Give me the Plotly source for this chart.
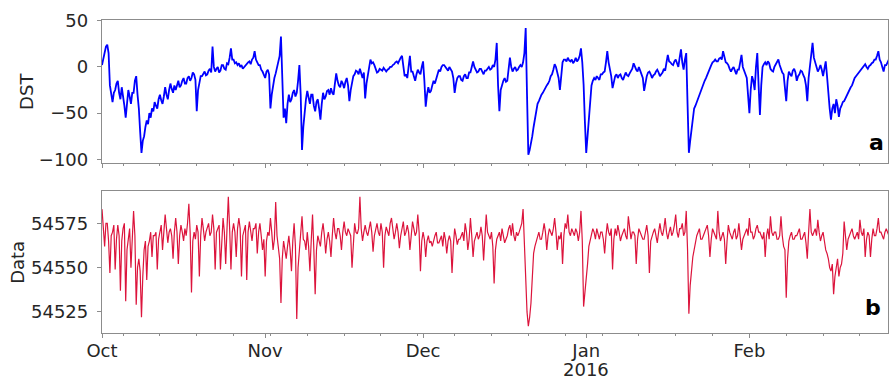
import pandas as pd
import plotly.graph_objects as go

# DST index, 6-hourly samples (4 per day), by month
dst_oct = [
    2, 10, 18, 22,  24, 15, -20, -30,  -38, -28, -25, -18,  -15, -28, -35, -22,  -30, -42, -55, -35,
    -25, -32, -40, -28,  -28, -15, -10, -30,  -45, -70, -93, -80,  -75, -65, -58, -62,  -50, -55, -45, -48,
    -38, -42, -45, -35,  -30, -36, -40, -32,  -22, -30, -35, -25,  -18, -24, -28, -20,  -25, -20, -15, -22,
    -20, -15, -12, -18,  -18, -12, -10, -15,  -12, -6, -8, -14,  -48, -25, -15, -10,  -10, -7, -5, -9,
    -8, -4, -2, -6,  22, 0, -5, -2,  0, -6, -4, 2,  2, -2, -3, 4,  3, 10, 20, 8,
    8, 4, 5, 2,  4, 0, 2, -2,  0, 2, 3, 5,  6, 3, 8, 10,  17, 8, 5, 2,
    2, -3, -5, -8,
]
dst_nov = [
    -12, -5, -3, -8,  -45, -30, -20, -12,  -7, 0, 5, 12,  33, -20, -55, -45,  -61, -40, -30, -38,
    -35, -28, -25, -32,  -28, -15, 2, -30,  -90, -65, -48, -35,  -26, -35, -40, -30,  -30, -42, -48, -38,
    -35, -45, -57, -40,  -28, -35, -32, -26,  -25, -30, -23, -28,  -30, -18, -7, -15,  -20, -22, -15, -18,
    -23, -16, -12, -20,  -37, -25, -15, -10,  -8, -4, -5, -8,  -2, -6, -12, -6,  -34, -18, -10, -2,
    8, 4, 5, 2,  -2, -6, -5, -2,  -3, -4, -1, -3,  -5, -3, -2, 0,  0, 2, 3, 5,
    6, 4, 8, 10,  12, 0, -10, -8,  -12, 0, 12, -5,  -5, -10, -15, -8,  -3, -6, -8, 0,
]
dst_dec = [
    6, -15, -43, -30,  -22, -28, -26, -20,  -15, -18, -12, -8,  -3, -5, 0, 2,  2, 0, -2, -4,
    0, -3, -5, -12,  -28, -18, -12, -10,  -10, -14, -15, -10,  -8, -12, -12, -6,  -6, 0, 6, 0,
    -3, -6, -5, -2,  -2, -5, -8, -4,  -4, -2, 0, -3,  -2, 2, 0, 8,  26, -20, -48, -25,
    -18, -15, -12, -16,  -15, -5, 10, 0,  -5, -2, 0, -4,  -3, 0, 2, 0,  5, 15, 42, -30,
    -95, -90, -84, -75,  -65, -55, -45, -40,  -37, -33, -30, -28,  -25, -22, -20, -18,  -15, -10, -8, -3,
    3, 0, -5, -12,  -25, -5, 5, 8,  8, 6, 10, 7,  6, 8, 4, 6,  10, 6, 8, 12,
    20, 5, -19, -60,
]
dst_jan = [
    -93, -75, -59, -35,  -20, -15, -12, -14,  -10, -12, -14, -8,  -8, -6, -5, 5,  17, 5, -3, -10,
    -23, -14, -10, -8,  -12, -9, -8, -12,  -14, -10, -6, -9,  -10, -7, -5, -2,  4, 0, -3, -5,
    0, -4, -8, -12,  -26, -15, -10, -6,  -5, -8, -12, -9,  -8, -5, -3, -6,  -10, -8, -6, -2,
    -4, 5, 13, 6,  5, 3, 2, 6,  8, 4, 0, 10,  19, 5, -3, 8,  15, -40, -93, -80,
    -66, -55, -45, -42,  -38, -34, -30, -25,  -22, -18, -15, -12,  -8, -4, -1, 2,  5, 6, 8, 6,
    6, 9, 10, 8,  17, 10, 5, 4,  2, -2, -5, -2,  0, -4, -8, -3,  -3, 5, 13, 0,
    -5, -8, -12, -30,
]
dst_feb = [
    -50, -25, -10, -15,  -25, 0, 15, -20,  -52, -20, 0, 3,  5, 2, 6, 4,  -2, -4, -5, 0,
    3, 6, 8, 2,  -3, -6, -8, -20,  -37, -15, -5, -8,  -10, -4, -2, -6,  -15, -10, -8, -4,
    -5, -9, -12, -20,  -37, -12, 0, 10,  26, 10, 5, 0,  -5, -2, 2, -3,  -10, -2, 6, -10,
    -30, -45, -57, -45,  -40, -50, -35, -42,  -54, -45, -42, -38,  -37, -34, -30, -28,  -25, -22, -20, -15,
    -12, -10, -8, -6,  -5, -2, 0, 2,  3, 0, -2, 1,  2, 4, 5, 8,  8, 12, 17, 8,
    5, 0, -5, 2,  2, 5, 8, 4,
]

# Magnetometer data, 6-hourly samples (4 per day), by month
data_oct = [
    54583, 54570, 54562, 54575,  54575, 54565, 54547, 54568,  54570, 54574, 54549, 54566,  54574, 54568, 54537, 54565,  54572, 54575, 54531, 54560,
    54568, 54572, 54550, 54570,  54582, 54568, 54529, 54550,  54555, 54548, 54522, 54545,  54560, 54565, 54543, 54562,  54565, 54570, 54556, 54568,
    54568, 54570, 54549, 54566,  54570, 54574, 54560, 54568,  54580, 54572, 54564, 54570,  54572, 54568, 54555, 54570,  54578, 54570, 54552, 54568,
    54574, 54570, 54565, 54572,  54568, 54575, 54586, 54570,  54536, 54565, 54570, 54566,  54574, 54570, 54545, 54568,  54578, 54572, 54565, 54570,
    54572, 54575, 54568, 54570,  54580, 54572, 54549, 54570,  54572, 54574, 54549, 54568,  54578, 54570, 54552, 54572,  54590, 54572, 54549, 54570,
    54575, 54570, 54556, 54572,  54578, 54572, 54545, 54568,  54572, 54574, 54543, 54570,  54576, 54570, 54565, 54572,  54572, 54575, 54558, 54570,
    54575, 54568, 54560, 54566,
]
data_nov = [
    54545, 54565, 54570, 54568,  54578, 54570, 54560, 54566,  54587, 54568, 54562, 54555,  54530, 54555, 54565, 54560,  54555, 54562, 54568, 54560,
    54548, 54565, 54575, 54562,  54521, 54550, 54560, 54570,  54579, 54566, 54565, 54560,  54570, 54562, 54548, 54565,  54580, 54560, 54535, 54560,
    54568, 54565, 54562, 54570,  54575, 54568, 54558, 54566,  54570, 54565, 54556, 54568,  54578, 54570, 54566, 54572,  54572, 54568, 54560, 54570,
    54576, 54570, 54568, 54572,  54570, 54568, 54550, 54566,  54575, 54570, 54569, 54572,  54590, 54572, 54565, 54570,  54574, 54570, 54568, 54572,
    54576, 54570, 54559, 54568,  54572, 54575, 54570, 54568,  54575, 54570, 54550, 54568,  54573, 54570, 54568, 54575,  54578, 54572, 54566, 54570,
    54575, 54570, 54561, 54568,  54572, 54576, 54568, 54570,  54574, 54570, 54560, 54568,  54576, 54572, 54568, 54570,  54580, 54570, 54548, 54565,
]
data_dec = [
    54570, 54566, 54556, 54565,  54568, 54564, 54565, 54562,  54566, 54568, 54570, 54564,  54564, 54566, 54568, 54562,  54570, 54566, 54558, 54565,
    54568, 54565, 54547, 54562,  54572, 54568, 54563, 54566,  54566, 54568, 54570, 54565,  54575, 54570, 54560, 54566,  54578, 54568, 54556, 54565,
    54568, 54570, 54566, 54568,  54573, 54568, 54554, 54566,  54580, 54570, 54568, 54566,  54570, 54562, 54541, 54560,  54566, 54568, 54570, 54565,
    54572, 54568, 54564, 54566,  54568, 54572, 54574, 54568,  54575, 54568, 54565, 54570,  54568, 54570, 54572, 54575,  54583, 54565, 54540, 54525,
    54517, 54522, 54530, 54545,  54558, 54562, 54565, 54568,  54570, 54566, 54566, 54570,  54575, 54570, 54560, 54568,  54572, 54570, 54568, 54572,
    54578, 54570, 54560, 54568,  54566, 54570, 54552, 54568,  54575, 54572, 54580, 54570,  54568, 54572, 54570, 54568,  54572, 54570, 54565, 54570,
    54582, 54565, 54528, 54535,
]
data_jan = [
    54541, 54552, 54562, 54565,  54568, 54572, 54570, 54566,  54572, 54568, 54566, 54570,  54570, 54566, 54558, 54568,  54575, 54570, 54568, 54572,
    54549, 54566, 54572, 54568,  54574, 54570, 54565, 54568,  54570, 54572, 54568, 54566,  54579, 54570, 54566, 54570,  54570, 54568, 54552, 54566,
    54572, 54570, 54568, 54566,  54566, 54570, 54574, 54568,  54547, 54565, 54568, 54570,  54572, 54568, 54564, 54570,  54575, 54570, 54568, 54572,
    54578, 54570, 54566, 54570,  54573, 54568, 54570, 54574,  54580, 54570, 54567, 54572,  54572, 54575, 54568, 54570,  54582, 54560, 54524, 54540,
    54550, 54556, 54560, 54565,  54568, 54570, 54572, 54566,  54566, 54568, 54570, 54572,  54574, 54568, 54556, 54566,  54572, 54570, 54568, 54566,
    54582, 54570, 54565, 54568,  54570, 54566, 54552, 54565,  54574, 54570, 54568, 54566,  54570, 54572, 54566, 54568,  54575, 54568, 54560, 54566,
    54568, 54570, 54572, 54568,
]
data_feb = [
    54578, 54570, 54570, 54566,  54568, 54572, 54574, 54570,  54570, 54568, 54566, 54570,  54556, 54568, 54572, 54566,  54579, 54570, 54568, 54570,
    54570, 54566, 54566, 54568,  54579, 54568, 54562, 54560,  54533, 54555, 54565, 54568,  54570, 54566, 54566, 54568,  54568, 54570, 54572, 54566,
    54566, 54568, 54570, 54564,  54555, 54570, 54583, 54570,  54568, 54570, 54572, 54568,  54577, 54570, 54565, 54568,  54570, 54565, 54560, 54558,
    54555, 54550, 54548, 54552,  54535, 54545, 54550, 54555,  54545, 54550, 54552, 54558,  54576, 54565, 54560, 54566,  54568, 54570, 54572, 54568,
    54566, 54568, 54570, 54566,  54577, 54570, 54568, 54572,  54556, 54566, 54570, 54568,  54556, 54566, 54572, 54568,  54568, 54572, 54578, 54570,
    54570, 54568, 54566, 54570,  54572, 54570, 54568, 54570,
]

dst = dst_oct + dst_nov + dst_dec + dst_jan + dst_feb
data = data_oct + data_nov + data_dec + data_jan + data_feb
t_dst = pd.date_range("2015-10-01", periods=len(dst), freq="6h")
t_data = pd.date_range("2015-10-01", periods=len(data), freq="6h")

month_ticks = ["2015-10-01", "2015-11-01", "2015-12-01", "2016-01-01", "2016-02-01"]
month_labels = ["Oct", "Nov", "Dec", "Jan", "Feb"]
dst_ticks = [50, 0, -50, -100]
data_ticks = [54525, 54550, 54575]

FONT = "DejaVu Sans"
TXT = "#262626"
FRAME = "#8c8c8c"
xrange_ = ["2015-10-01", "2016-02-27 08:00"]

fig = go.Figure()
fig.add_trace(go.Scatter(x=t_dst, y=dst, mode="lines",
                         line=dict(color="#0000ff", width=1.8),
                         xaxis="x", yaxis="y", showlegend=False))
fig.add_trace(go.Scatter(x=t_data, y=data, mode="lines",
                         line=dict(color="#dc143c", width=1.2),
                         xaxis="x2", yaxis="y2", showlegend=False))

common_x = dict(type="date", range=xrange_, showgrid=False, zeroline=False,
                showline=True, mirror=True, linecolor=FRAME, linewidth=1.3,
                tickmode="array", tickvals=month_ticks, ticks="outside",
                ticklen=4, tickcolor=FRAME, tickwidth=1, ticklabelstandoff=-3,
                minor=dict(ticks="outside", ticklen=2, tickcolor=FRAME,
                           dtick=7 * 86400000, tick0="2015-10-05"),
                tickfont=dict(family=FONT, size=18, color=TXT))
common_y = dict(showgrid=False, zeroline=False, showline=True, mirror=True,
                linecolor=FRAME, linewidth=1.3, ticks="outside", ticklen=4,
                tickcolor=FRAME, tickwidth=1, tickmode="array",
                ticklabelstandoff=5,
                tickfont=dict(family=FONT, size=18, color=TXT))

fig.update_layout(
    width=890, height=378,
    margin=dict(l=102, r=2, t=20, b=45),
    paper_bgcolor="white", plot_bgcolor="white",
    xaxis=dict(common_x, domain=[0, 1], anchor="y", showticklabels=False),
    yaxis=dict(common_y, domain=[0.544, 1], anchor="x", range=[-103.7, 50.8],
               tickvals=dst_ticks, ticktext=["50", "0", "\u221250", "\u2212100"]),
    xaxis2=dict(common_x, domain=[0, 1], anchor="y2", matches="x",
                ticktext=month_labels),
    yaxis2=dict(common_y, domain=[0, 0.4546], anchor="x2", range=[54513.1, 54593.4],
                tickvals=data_ticks, ticktext=[str(v) for v in data_ticks]),
)

fig.add_annotation(text="DST", x=-0.096, y=0.772, xref="paper", yref="paper",
                   textangle=-90, showarrow=False, xanchor="center", yanchor="middle",
                   font=dict(family=FONT, size=18, color=TXT))
fig.add_annotation(text="Data", x=-0.107, y=0.227, xref="paper", yref="paper",
                   textangle=-90, showarrow=False, xanchor="center", yanchor="middle",
                   font=dict(family=FONT, size=18, color=TXT))
fig.add_annotation(text="<b>a</b>", x=0.986, y=0.145, xref="x domain", yref="y domain",
                   showarrow=False, xanchor="center", yanchor="middle",
                   font=dict(family=FONT, size=22, color="black"))
fig.add_annotation(text="<b>b</b>", x=0.981, y=0.181, xref="x2 domain", yref="y2 domain",
                   showarrow=False, xanchor="center", yanchor="middle",
                   font=dict(family=FONT, size=22, color="black"))
fig.add_annotation(text="2016", x="2016-01-01", y=-0.118, xref="x2", yref="paper",
                   showarrow=False, xanchor="center", yanchor="middle",
                   font=dict(family=FONT, size=18, color=TXT))

fig.write_html("out.html")
